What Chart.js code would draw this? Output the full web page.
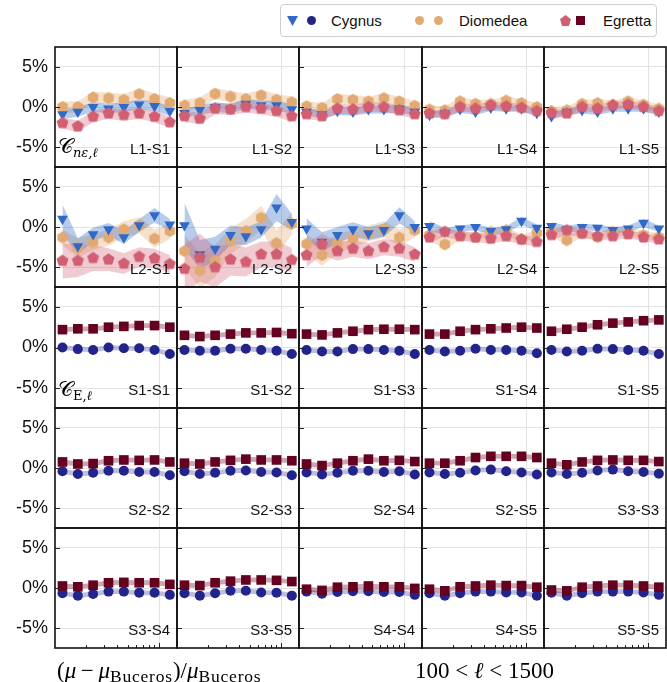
<!DOCTYPE html>
<html lang="en">
<head>
<meta charset="UTF-8">
<title>Panels</title>
<script src="https://cdn.jsdelivr.net/npm/chart.js@4.4.0/dist/chart.umd.min.js"></script>
<style>
  body { margin: 0; background: #fff; }
  #wrap { position: relative; width: 667px; height: 682px; overflow: hidden; font-family: "Liberation Sans", Arial, sans-serif; color: #111; }
  #wrap canvas { position: absolute; }
  .plab { position: absolute; font-size: 15px; line-height: 17px; text-align: right; }
  .rlab { position: absolute; font-family: "DejaVu Serif", serif; font-size: 21px; line-height: 24px; }
  .rlab sub { font-size: 13px; font-style: italic; vertical-align: -4px; }
  .math { position: absolute; font-family: "Liberation Serif", serif; font-size: 23px; line-height: 24px; white-space: nowrap; }
  .math i { font-style: italic; }
  .math sub { font-size: 17.5px; letter-spacing: 0.8px; vertical-align: -4px; }
  #legend { position: absolute; left: 280px; top: 4px; width: 377px; height: 33px; border: 1px solid #cfcfcf; border-radius: 4px; box-sizing: border-box; }
  #legend span { position: absolute; }
  .tri { width: 11px; height: 10px; clip-path: polygon(0 0, 100% 0, 50% 100%); }
  .dot { width: 9px; height: 9px; border-radius: 50%; }
  .pent { width: 11px; height: 11px; clip-path: polygon(50% 0, 100% 38%, 81% 100%, 19% 100%, 0 38%); }
  .sq { width: 9px; height: 9px; }
  .ltxt { font-size: 15px; line-height: 17px; top: 7px; }
</style>
</head>
<body>
<div id="wrap">
  <div id="legend">
    <span class="tri" style="left:6px;top:11px;background:#3169c6"></span>
    <span class="dot" style="left:26px;top:11px;background:#23238c"></span>
    <span class="ltxt" style="left:50px">Cygnus</span>
    <span class="dot" style="left:134px;top:11px;background:#e2aa72"></span>
    <span class="dot" style="left:153px;top:11px;background:#e2aa72"></span>
    <span class="ltxt" style="left:178px">Diomedea</span>
    <span class="pent" style="left:279px;top:10px;background:#d25e72"></span>
    <span class="sq" style="left:295px;top:11px;background:#65001f"></span>
    <span class="ltxt" style="left:322px">Egretta</span>
  </div>
</div>
<script>
// bin centres in ell (log spaced, 100 < ell < 1500)
const ell = [118, 166, 233, 328, 461, 648, 911, 1280];

const rowNames = [
  ['L1-S1', 'L1-S2', 'L1-S3', 'L1-S4', 'L1-S5'],
  ['L2-S1', 'L2-S2', 'L2-S3', 'L2-S4', 'L2-S5'],
  ['S1-S1', 'S1-S2', 'S1-S3', 'S1-S4', 'S1-S5'],
  ['S2-S2', 'S2-S3', 'S2-S4', 'S2-S5', 'S3-S3'],
  ['S3-S4', 'S3-S5', 'S4-S4', 'S4-S5', 'S5-S5']
];
const yTicks = [-5, 0, 5];
const xGrid = [1000];

// row 1 (C_{n eps, l}, L1)  values in %
const r1_cygnus = [
  [-0.9, -0.6, 0.0, -0.2, 0.0, 0.3, 0.1, -0.5],
  [-0.75, -0.4, 0.0, -0.2, 0.4, 0.2, 0.2, -0.3],
  [-0.6, -0.9, -0.5, -0.6, -0.3, -0.3, -0.2, -0.6],
  [-1.0, -0.8, -0.3, -0.6, -0.1, -0.2, -0.2, -0.75],
  [-1.15, -0.6, -0.4, -0.6, -0.2, -0.2, -0.2, -0.6]
];
const r1_diomedea = [
  [0.0, 0.0, 1.2, 1.1, 0.9, 1.6, 1.0, 0.5],
  [0.2, 0.5, 1.65, 1.3, 1.0, 1.45, 0.9, 0.6],
  [0.1, -0.1, 1.0, 0.9, 0.7, 1.1, 0.7, 0.15],
  [-0.3, -0.4, 0.7, 0.4, 0.4, 0.8, 0.5, 0.0],
  [-0.5, -0.4, 0.4, 0.5, 0.3, 0.7, 0.3, -0.2]
];
const r1_egretta = [
  [-2.0, -2.4, -1.2, -0.8, -1.0, -0.8, -1.2, -1.9],
  [-1.15, -1.45, -0.2, -0.3, 0.0, -0.2, -0.5, -1.15],
  [-0.9, -1.15, -0.2, -0.3, 0.0, 0.0, -0.4, -0.9],
  [-0.8, -0.9, 0.0, -0.2, 0.2, 0.1, -0.1, -0.5],
  [-0.75, -0.8, 0.0, -0.2, 0.2, 0.3, 0.0, -0.5]
];
const r1_cygnus_err = [
  [0.6, 0.6, 0.6, 0.6, 0.6, 0.6, 0.6, 0.6], [0.6, 0.6, 0.6, 0.6, 0.6, 0.6, 0.6, 0.6],
  [0.5, 0.5, 0.5, 0.5, 0.5, 0.5, 0.5, 0.5], [0.4, 0.4, 0.4, 0.4, 0.4, 0.4, 0.4, 0.4],
  [0.4, 0.4, 0.4, 0.4, 0.4, 0.4, 0.4, 0.4]
];
const r1_diomedea_err = [
  [0.7, 0.7, 0.7, 0.7, 0.7, 0.7, 0.7, 0.7], [0.7, 0.7, 0.7, 0.7, 0.7, 0.7, 0.7, 0.7],
  [0.6, 0.6, 0.6, 0.6, 0.6, 0.6, 0.6, 0.6], [0.5, 0.5, 0.5, 0.5, 0.5, 0.5, 0.5, 0.5],
  [0.5, 0.5, 0.5, 0.5, 0.5, 0.5, 0.5, 0.5]
];
const r1_egretta_err = [
  [0.7, 0.7, 0.7, 0.7, 0.7, 0.7, 0.7, 0.7], [0.7, 0.7, 0.7, 0.7, 0.7, 0.7, 0.7, 0.7],
  [0.6, 0.6, 0.6, 0.6, 0.6, 0.6, 0.6, 0.6], [0.5, 0.5, 0.5, 0.5, 0.5, 0.5, 0.5, 0.5],
  [0.5, 0.5, 0.5, 0.5, 0.5, 0.5, 0.5, 0.5]
];

// row 2 (L2)
const r2_cygnus = [
  [1.0, -2.4, -0.9, -0.3, -1.3, 0.2, 1.45, 0.3],
  [0.2, -3.4, -2.7, -1.0, -1.15, -0.3, 2.4, 0.6],
  [-0.2, -1.85, -1.0, -0.3, -0.8, -0.4, 1.45, 0.0],
  [0.1, -0.6, -0.2, 0.0, -0.5, -0.3, 0.75, -0.1],
  [0.1, -0.3, 0.0, -0.1, -0.4, -0.2, 0.5, -0.2]
];
const r2_diomedea = [
  [-1.3, -2.6, -1.9, -1.3, -0.3, 0.2, -1.45, -0.5],
  [-3.0, -5.4, -4.2, -1.75, -0.5, 1.15, -2.0, 0.4],
  [-2.1, -3.5, -2.1, -1.45, -0.8, -0.3, -1.3, -0.4],
  [-1.0, -2.15, -1.0, -1.25, -0.6, -0.4, -1.55, -0.75],
  [-0.6, -1.65, -0.8, -1.25, -0.6, -0.6, -1.0, -1.25]
];
const r2_egretta = [
  [-4.2, -4.2, -3.85, -4.05, -4.55, -3.7, -3.9, -4.6],
  [-5.2, -3.8, -5.0, -4.05, -4.35, -3.4, -3.4, -4.1],
  [-3.5, -2.15, -3.0, -2.7, -3.0, -2.5, -2.7, -3.4],
  [-1.3, -0.6, -1.15, -1.3, -1.45, -1.15, -1.55, -1.85],
  [-1.0, -0.4, -0.8, -1.15, -1.15, -0.9, -1.3, -1.55]
];
const r2_cygnus_err = [
  [1.8, 1.0, 0.8, 0.8, 0.8, 0.8, 0.9, 0.7],
  [2.8, 1.8, 1.5, 1.2, 1.1, 1.0, 1.7, 1.0],
  [1.3, 1.2, 1.0, 0.9, 0.8, 0.8, 1.0, 0.7],
  [0.6, 0.5, 0.4, 0.4, 0.4, 0.4, 0.5, 0.4],
  [0.5, 0.5, 0.4, 0.4, 0.4, 0.4, 0.5, 0.4]
];
const r2_diomedea_err = [
  [1.0, 1.2, 1.0, 1.0, 1.0, 1.0, 1.1, 1.0],
  [2.0, 2.2, 2.0, 1.6, 1.5, 1.5, 1.6, 1.3],
  [1.2, 1.3, 1.2, 1.1, 1.0, 1.0, 1.0, 0.9],
  [0.6, 0.7, 0.6, 0.5, 0.5, 0.5, 0.5, 0.5],
  [0.6, 0.6, 0.5, 0.5, 0.5, 0.5, 0.5, 0.5]
];
const r2_egretta_err = [
  [2.2, 2.0, 1.6, 1.4, 1.3, 1.2, 1.2, 1.1],
  [3.0, 3.0, 2.5, 2.0, 1.8, 1.6, 1.6, 1.5],
  [1.5, 1.3, 1.2, 1.0, 1.0, 1.0, 1.0, 0.9],
  [0.7, 0.6, 0.6, 0.6, 0.6, 0.6, 0.6, 0.6],
  [0.6, 0.6, 0.5, 0.5, 0.5, 0.5, 0.5, 0.5]
];

// rows 3-5 (C_{E, l})
const r3_cygnus = [
  [0.0, -0.2, -0.3, 0.0, -0.1, -0.1, -0.3, -0.8],
  [-0.3, -0.4, -0.4, -0.15, -0.15, -0.3, -0.4, -0.8],
  [-0.3, -0.5, -0.5, -0.2, -0.2, -0.3, -0.4, -0.8],
  [-0.3, -0.5, -0.4, -0.15, -0.3, -0.3, -0.4, -0.7],
  [-0.3, -0.5, -0.4, -0.15, -0.2, -0.3, -0.4, -0.8]
];
const r3_egretta = [
  [2.2, 2.3, 2.3, 2.5, 2.6, 2.7, 2.7, 2.5],
  [1.5, 1.35, 1.5, 1.65, 1.8, 1.8, 1.85, 1.7],
  [1.65, 1.55, 1.8, 2.0, 2.2, 2.25, 2.25, 2.2],
  [1.65, 1.65, 2.0, 2.2, 2.3, 2.4, 2.5, 2.4],
  [2.0, 2.25, 2.5, 2.8, 3.0, 3.15, 3.3, 3.4]
];
const r4_cygnus = [
  [-0.4, -0.75, -0.6, -0.35, -0.35, -0.5, -0.5, -0.9],
  [-0.4, -0.75, -0.6, -0.35, -0.3, -0.5, -0.55, -0.9],
  [-0.55, -0.8, -0.6, -0.35, -0.35, -0.5, -0.4, -0.8],
  [-0.55, -0.75, -0.6, -0.3, -0.2, -0.4, -0.55, -0.8],
  [-0.55, -0.75, -0.6, -0.3, -0.2, -0.4, -0.5, -0.7]
];
const r4_egretta = [
  [0.75, 0.5, 0.55, 0.9, 1.0, 0.95, 1.0, 0.75],
  [0.6, 0.5, 0.75, 0.95, 1.1, 1.0, 1.0, 0.9],
  [0.5, 0.3, 0.6, 0.9, 1.1, 0.9, 0.95, 0.8],
  [0.6, 0.6, 0.9, 1.3, 1.45, 1.45, 1.45, 1.3],
  [0.6, 0.4, 0.75, 0.95, 1.0, 0.95, 0.95, 0.8]
];
const r5_cygnus = [
  [-0.65, -0.95, -0.75, -0.45, -0.45, -0.6, -0.6, -0.85],
  [-0.65, -0.95, -0.65, -0.35, -0.35, -0.55, -0.6, -0.95],
  [-0.45, -0.7, -0.5, -0.4, -0.4, -0.5, -0.5, -0.85],
  [-0.65, -0.95, -0.65, -0.45, -0.45, -0.55, -0.55, -0.95],
  [-0.6, -0.95, -0.65, -0.45, -0.45, -0.45, -0.55, -0.85]
];
const r5_egretta = [
  [0.25, 0.15, 0.35, 0.65, 0.7, 0.65, 0.65, 0.45],
  [0.35, 0.3, 0.65, 0.85, 1.0, 1.0, 0.95, 0.8],
  [-0.15, -0.3, 0.1, 0.15, 0.25, 0.15, 0.15, -0.05],
  [-0.15, -0.35, 0.15, 0.25, 0.35, 0.3, 0.3, 0.1],
  [-0.25, -0.35, 0.1, 0.25, 0.35, 0.35, 0.25, 0.1]
];
// band half width for the lower three rows
const sCygnusErr = [0.3, 0.3, 0.3, 0.3, 0.3, 0.3, 0.3, 0.3];
const sEgrettaErr = [0.3, 0.3, 0.3, 0.3, 0.3, 0.3, 0.3, 0.3];

// panel edges in page pixels
const colX = [55, 177, 299, 422, 544, 666];
const rowY = [47, 167, 287, 408, 528, 648];

function polyMarker(n, r, color) {
  const s = Math.ceil(r * 2 + 2);
  const c = document.createElement('canvas');
  c.width = s; c.height = s;
  const g = c.getContext('2d');
  g.fillStyle = color;
  g.beginPath();
  for (let i = 0; i < n; i++) {
    const a = -Math.PI / 2 + i * 2 * Math.PI / n;
    g.lineTo(s / 2 + r * Math.cos(a), s / 2 + r * Math.sin(a));
  }
  g.closePath();
  g.fill();
  return c;
}
const hexMark = polyMarker(6, 6, '#e2aa72');
const pentMark = polyMarker(5, 6.3, '#d25e72');

// grid line at ell = 1000 drawn behind the data
const xgrid = {
  id: 'xgrid',
  beforeDatasetsDraw(chart) {
    const ctx = chart.ctx, a = chart.chartArea, xs = chart.scales.x;
    ctx.save();
    ctx.strokeStyle = '#e2e2e2';
    ctx.lineWidth = 1;
    xGrid.forEach(v => {
      const x = Math.round(xs.getPixelForValue(v)) + 0.5;
      ctx.beginPath(); ctx.moveTo(x, a.top); ctx.lineTo(x, a.bottom); ctx.stroke();
    });
    ctx.restore();
  }
};

// black box round each panel with inward ticks
const frame = {
  id: 'frame',
  afterDraw(chart, args, opts) {
    const ctx = chart.ctx, a = chart.chartArea;
    const ys = chart.scales.y, xs = chart.scales.x;
    ctx.save();
    ctx.strokeStyle = '#222';
    ctx.lineWidth = 1;
    ys.ticks.forEach(t => {
      const y = Math.round(ys.getPixelForValue(t.value)) + 0.5;
      ctx.beginPath(); ctx.moveTo(a.left, y); ctx.lineTo(a.left + 5, y); ctx.stroke();
    });
    if (opts.bottom) {
      [200, 300, 400, 500, 600, 700, 800, 900, 1000].forEach(v => {
        const x = Math.round(xs.getPixelForValue(v)) + 0.5;
        ctx.beginPath(); ctx.moveTo(x, a.bottom); ctx.lineTo(x, a.bottom - (v === 1000 ? 5 : 3)); ctx.stroke();
      });
    }
    ctx.lineWidth = 1.6;
    ctx.strokeStyle = '#111';
    ctx.strokeRect(a.left, a.top, a.right - a.left, a.bottom - a.top);
    ctx.restore();
  }
};

function bandSets(vals, err, color, order) {
  return [
    { data: ell.map((x, i) => ({ x: x, y: vals[i] + err[i] })), borderWidth: 0, pointRadius: 0,
      backgroundColor: color, fill: '+1', order: order },
    { data: ell.map((x, i) => ({ x: x, y: vals[i] - err[i] })), borderWidth: 0, pointRadius: 0,
      fill: false, order: order }
  ];
}
function markerSet(vals, style, color, radius, rotation, order) {
  return { data: ell.map((x, i) => ({ x: x, y: vals[i] })), showLine: false,
    pointStyle: style, pointRadius: radius, pointRotation: rotation,
    pointBackgroundColor: color, pointBorderWidth: 0, order: order };
}

const wrap = document.getElementById('wrap');

function makePanel(r, c, datasets) {
  const pw = colX[c + 1] - colX[c], ph = rowY[r + 1] - rowY[r];
  const left = c === 0 ? 0 : colX[c] - 2;
  const w = c === 0 ? colX[1] + 2 : pw + 4;
  const box = document.createElement('div');
  box.style.position = 'absolute';
  box.style.left = left + 'px';
  box.style.top = (rowY[r] - 2) + 'px';
  box.style.width = w + 'px';
  box.style.height = (ph + 4) + 'px';
  const cv = document.createElement('canvas');
  box.appendChild(cv);
  wrap.appendChild(box);
  new Chart(cv, {
    type: 'line',
    data: { datasets: datasets },
    options: {
      responsive: true, maintainAspectRatio: false, animation: false, events: [],
      layout: { autoPadding: false, padding: { left: c === 0 ? 0 : 2, right: 2, top: 2, bottom: 2 } },
      plugins: { legend: { display: false }, tooltip: { enabled: false }, frame: { bottom: r === 4 } },
      scales: {
        x: { type: 'logarithmic', min: 100, max: 1500,
             ticks: { display: false }, grid: { display: false }, border: { display: false },
             afterFit: s => { s.height = 0; s.paddingLeft = 0; s.paddingRight = 0; } },
        y: { type: 'linear', min: -7.45, max: 7.45,
             afterBuildTicks: s => { s.ticks = yTicks.map(v => ({ value: v })); },
             ticks: { display: c === 0, callback: v => v + '%', color: '#111', padding: 7,
                      font: { family: 'Liberation Sans', size: 18 } },
             grid: { color: '#e2e2e2', drawTicks: false }, border: { display: false },
             afterFit: s => { s.width = c === 0 ? colX[0] : 0; s.paddingTop = 0; s.paddingBottom = 0; } }
      }
    },
    plugins: [xgrid, frame]
  });
  const lab = document.createElement('div');
  lab.className = 'plab';
  lab.style.left = colX[c] + 'px';
  lab.style.width = (pw - 7) + 'px';
  lab.style.top = (rowY[r + 1] - 27) + 'px';
  lab.textContent = rowNames[r][c];
  wrap.appendChild(lab);
}

const topRows = [
  [r1_cygnus, r1_diomedea, r1_egretta, r1_cygnus_err, r1_diomedea_err, r1_egretta_err],
  [r2_cygnus, r2_diomedea, r2_egretta, r2_cygnus_err, r2_diomedea_err, r2_egretta_err]
];
topRows.forEach((row, r) => {
  for (let c = 0; c < 5; c++) {
    const ds = [
      markerSet(row[2][c], pentMark, '#d25e72', 6, 0, 1),
      markerSet(row[0][c], 'triangle', '#3169c6', 6.2, 180, 2),
      markerSet(row[1][c], hexMark, '#e2aa72', 6, 0, 3),
      ...bandSets(row[2][c], row[5][c], 'rgba(210,94,114,0.32)', 4),
      ...bandSets(row[0][c], row[3][c], 'rgba(49,105,198,0.35)', 5),
      ...bandSets(row[1][c], row[4][c], 'rgba(226,170,114,0.35)', 6)
    ];
    makePanel(r, c, ds);
  }
});

const lowRows = [[r3_cygnus, r3_egretta], [r4_cygnus, r4_egretta], [r5_cygnus, r5_egretta]];
lowRows.forEach((row, k) => {
  for (let c = 0; c < 5; c++) {
    const ds = [
      markerSet(row[1][c], 'rect', '#65001f', 6.8, 0, 1),
      markerSet(row[0][c], 'circle', '#23238c', 5, 0, 2),
      ...bandSets(row[1][c], sEgrettaErr, 'rgba(101,0,31,0.35)', 3),
      ...bandSets(row[0][c], sCygnusErr, 'rgba(35,35,140,0.3)', 4)
    ];
    makePanel(k + 2, c, ds);
  }
});
</script>
<div class="rlab" style="left:58px;top:134px;position:absolute">𝒞<sub>nε,ℓ</sub></div>
<div class="rlab" style="left:58px;top:377px;position:absolute">𝒞<sub style="font-style:normal">E,<i>ℓ</i></sub></div>
<div class="math" style="left:57px;top:659px">(<i>μ</i>&thinsp;−&thinsp;<i>μ</i><sub>Buceros</sub>)/<i>μ</i><sub>Buceros</sub></div>
<div class="math" style="left:415px;top:659px">100 &lt; <i>ℓ</i> &lt; 1500</div>
</body>
</html>
